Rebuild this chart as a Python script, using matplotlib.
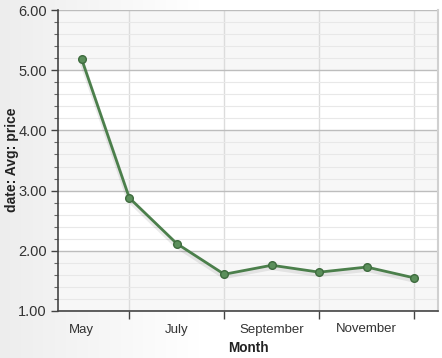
import numpy as np
import matplotlib
matplotlib.use("Agg")
import matplotlib.pyplot as plt
from matplotlib.ticker import MultipleLocator, FixedLocator, NullFormatter

months = ["May", "June", "July", "August", "September", "October", "November", "December"]
price = [5.18, 2.88, 2.12, 1.61, 1.76, 1.645, 1.73, 1.55]
label_months = ["May", "July", "September", "November"]

plt.rcParams['font.family'] = ['Liberation Sans', 'DejaVu Sans']

fig = plt.figure(figsize=(4.42, 3.58), dpi=100)

# background gradient
bg = fig.add_axes([0, 0, 1, 1], zorder=-10)
grad = np.linspace(0, 1, 256)
vals = np.clip(0.93 + 0.07 * grad / 0.45, 0, 1)
img = np.tile(vals, (10, 1))
bg.imshow(np.dstack([img, img, img]), aspect='auto', extent=[0, 1, 0, 1])
bg.set_axis_off()

ax = fig.add_axes([58/442, 1 - 311/358, 380/442, 301/358])
ax.set_facecolor('white')

x = np.arange(len(months))
ax.set_xlim(-0.5, len(months) - 0.5)
ax.set_ylim(1, 6)

# alternating bands
for lo in range(1, 6):
    if (lo % 2) == 1:
        ax.axhspan(lo, lo + 1, color='#f7f7f7', zorder=0, lw=0)

# shadow
ax.plot(x, np.array(price) - 0.04, color='#000000', alpha=0.08, lw=3.5, zorder=3, solid_capstyle='round')
ax.plot(x, price, color='#4b7f4b', lw=2.0, zorder=4,
        marker='o', markersize=5.5, markerfacecolor='#5b8f5b', markeredgecolor='#3e6b3e', markeredgewidth=1)

# y axis
ax.yaxis.set_major_locator(MultipleLocator(1))
ax.yaxis.set_minor_locator(MultipleLocator(0.2))
ax.yaxis.set_major_formatter(matplotlib.ticker.FuncFormatter(lambda v, p: f"{v:.2f}"))
ax.grid(which='major', axis='y', color='#bdbdbd', lw=1.0, zorder=1)
ax.grid(which='minor', axis='y', color='#e8e8e8', lw=0.8, zorder=1)

# x axis: ticks/grid between label months, labels on alternating months
tick_pos = [i for i in x if i % 2 == 1]
lab_pos = [x[months.index(m)] for m in label_months]
ax.xaxis.set_major_locator(FixedLocator(tick_pos))
ax.xaxis.set_major_formatter(NullFormatter())
ax.xaxis.set_minor_locator(FixedLocator(lab_pos))
ax.set_xticklabels(label_months, minor=True)
ax.grid(which='major', axis='x', color='#dcdcdc', lw=1.0, zorder=1)

ax.tick_params(axis='x', which='major', length=6, width=1, color='#444444', direction='out')
ax.tick_params(axis='x', which='minor', length=0, pad=9, labelsize=9.5, labelcolor='#333333')
ax.tick_params(axis='y', which='major', length=5, width=1, color='#444444', pad=3, labelsize=10.5, labelcolor='#333333')
ax.tick_params(axis='y', which='minor', length=3, width=0.8, color='#666666')

ax.spines['top'].set_visible(False)
ax.spines['right'].set_color('#d0d0d0')
ax.spines['right'].set_linewidth(1.5)
ax.spines['left'].set_color('#444444')
ax.spines['bottom'].set_color('#444444')
ax.spines['left'].set_linewidth(1.2)
ax.spines['bottom'].set_linewidth(1.2)

fig.text(248/442, 1 - 348/358, "Month", fontsize=9.8, fontweight='bold', color='#222222',
         ha='center', va='center')
fig.text(12/442, 1 - 160/358, "date: Avg: price", fontsize=10, fontweight='bold', color='#222222',
         ha='center', va='center', rotation=90)

fig.savefig("out.png", dpi=100)
